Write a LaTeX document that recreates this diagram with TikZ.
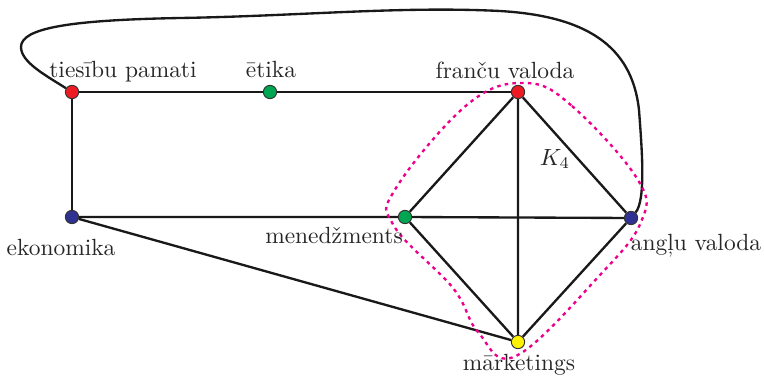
\documentclass[tikz,border=0pt]{standalone}
\usepackage{tikz}
\usetikzlibrary{backgrounds,calc}
\definecolor{vred}{RGB}{237,28,36}
\definecolor{vgreen}{RGB}{0,166,81}
\definecolor{vblue}{RGB}{46,49,146}
\definecolor{vyellow}{RGB}{255,242,0}
\definecolor{vmagenta}{RGB}{236,0,140}
\tikzset{
  every picture/.style={line width=1pt},
  vertex/.style={circle, draw=black!80, line width=0.4pt, minimum size=0.2cm, inner sep=0pt},
  edge/.style={black!90, line width=1pt},
  lbl/.style={anchor=base, inner sep=0pt, text=black!85}
}

\begin{document}
\begin{tikzpicture}[x=0.015cm, y=-0.015cm]
    \useasboundingbox (0,0) rectangle (764,378);

    % virsotnes
    \node[vertex, fill=vred]    (tp)  at (72,92)   {};
    \node[vertex, fill=vgreen]  (et)  at (270,92)  {};
    \node[vertex, fill=vred]    (fv)  at (518,92)  {};
    \node[vertex, fill=vblue]   (ek)  at (72,217)  {};
    \node[vertex, fill=vgreen]  (me)  at (405,217) {};
    \node[vertex, fill=vblue]   (av)  at (631,218) {};
    \node[vertex, fill=vyellow] (ma)  at (518,342) {};

    % nosaukumi
    \node[lbl] (tp-l) at (123,77)  {tiesību pamati};
    \node[lbl] (et-l) at (271,77)  {ētika};
    \node[lbl] (fv-l) at (505,78)  {franču valoda};
    \node[lbl] (ek-l) at (61,255)  {ekonomika};
    \node[lbl] (me-l) at (334,243) {menedžments};
    \node[lbl] (av-l) at (696,250) {angļu valoda};
    \node[lbl] (ma-l) at (519,370) {mārketings};
    \node[lbl] (k4-l) at (555,165) {$K_4$};

    \begin{scope}[on background layer]
    % skaldnes
    \draw[edge] (tp) -- (et) -- (fv);
    \draw[edge] (tp) -- (ek);
    \draw[edge] (ek) -- (me) -- (av);
    \draw[edge] (ek) -- (ma);
    \draw[edge] (fv) -- (me) -- (ma) -- (av) -- (fv) -- (ma);

    % garā līkne
    \draw[edge] (tp) .. controls (45,75) and (21,62) .. (21,47)
        .. controls (21,28) and (70,20) .. (180,18)
        .. controls (300,16) and (400,6) .. (500,11)
        .. controls (585,16) and (632,45) .. (639,110)
        .. controls (642,150) and (646,200) .. (av);

    % K4 apvilkums
    \draw[vmagenta, line width=1pt, dash pattern=on 1.5pt off 1.8pt]
        plot[smooth cycle, tension=0.65] coordinates {
          (525,83) (572,106) (638,180) (641,222)
          (600,275) (516,356) (478,332) (453,288)
          (394,226) (396,188) (468,104)};
    \end{scope}
\end{tikzpicture}
\end{document}
